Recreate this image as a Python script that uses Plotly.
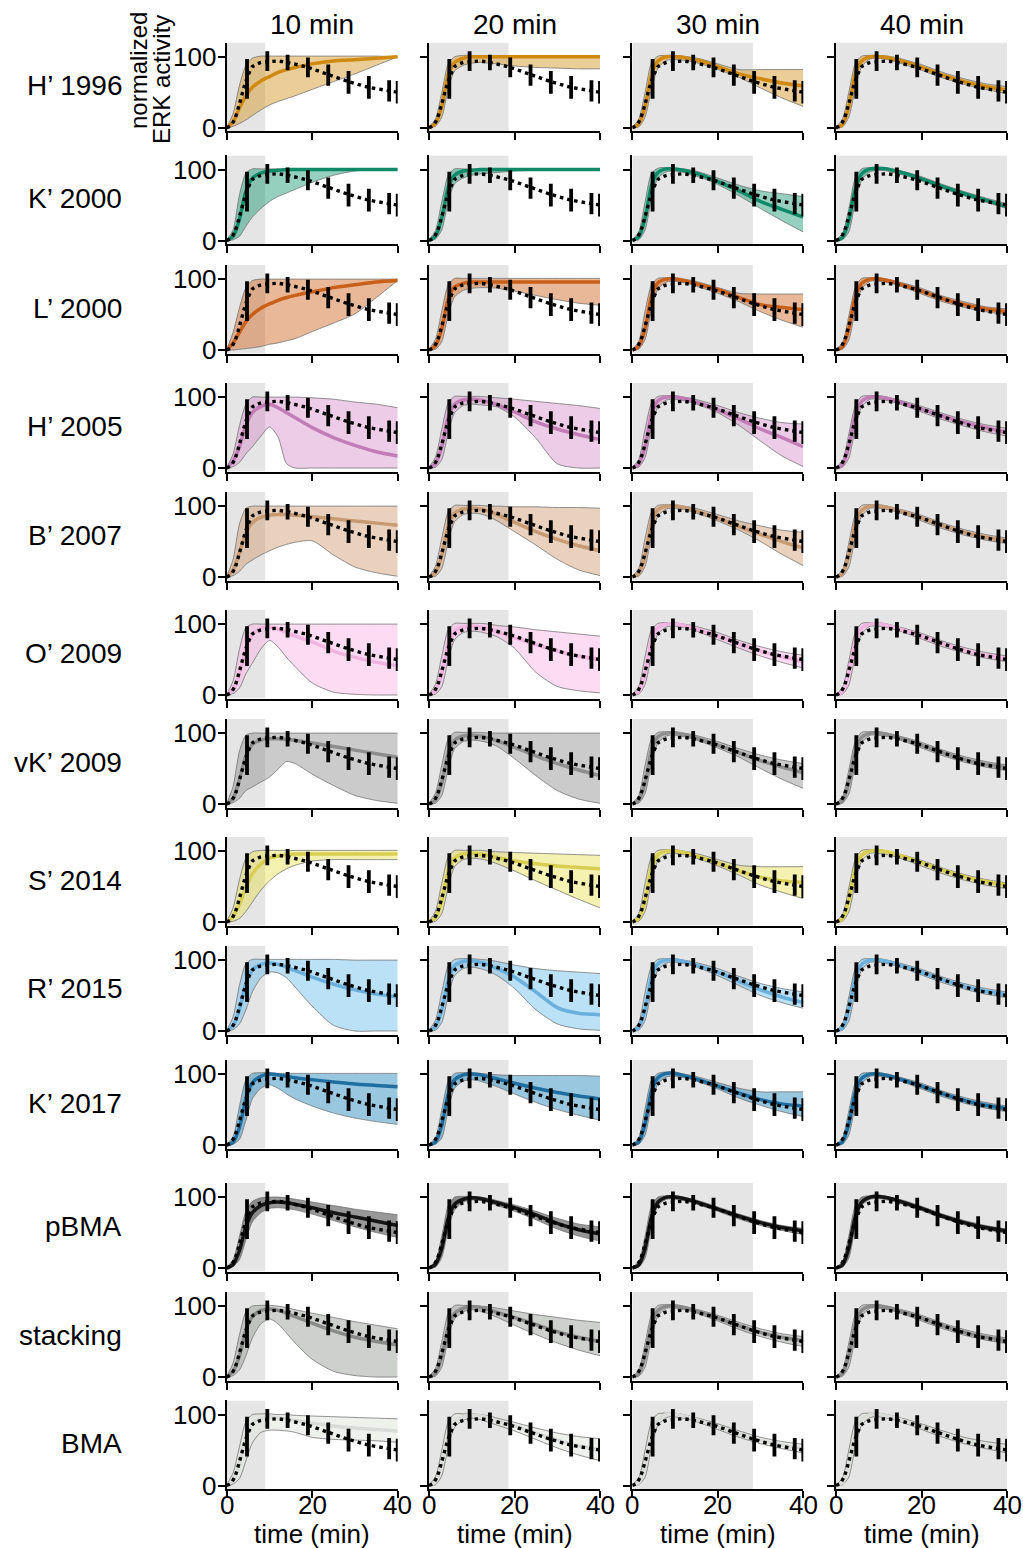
import plotly.graph_objects as go

# ---------------- data ----------------
ROW_LABELS = ["H’ 1996", "K’ 2000", "L’ 2000", "H’ 2005", "B’ 2007", "O’ 2009",
              "vK’ 2009", "S’ 2014", "R’ 2015", "K’ 2017", "pBMA", "stacking", "BMA"]
COL_TITLES = ["10 min", "20 min", "30 min", "40 min"]
TRAIN_END = [9.0, 18.6, 28.2, 40.0]
X_TICKS = [0, 20, 40]
Y_TICKS = [0, 100]

# measured data (dotted line + error bars)
DOT_T = [0, 1, 2, 3, 4, 4.75, 6, 8, 9.5, 12, 14.25, 19, 23.75, 28.5, 33.25, 38, 40]
DOT_Y = [0, 3, 14, 34, 56, 70, 86, 92, 93, 94, 92, 85, 75, 65, 57, 52, 50]
ERR_T = [4.75, 9.5, 14.25, 19, 23.75, 28.5, 33.25, 38, 40]
ERR_Y = [69, 94, 92, 85, 74, 64, 57, 52, 50]
ERR_E = [28, 14, 11, 14, 15, 16, 16, 15, 16]

# model predictions sampled at these times
T = [0, 1.5, 3, 4.5, 6, 8, 10, 12, 14, 16, 20, 25, 30, 35, 40]

H1996_MED = [[0, 8, 28, 45, 57, 66, 72, 78, 82, 85, 90, 94, 96, 98, 100],
             [0, 6, 30, 75, 92, 98, 100, 100, 100, 100, 100, 100, 100, 100, 100],
             [0, 5, 30, 75, 94, 100, 100, 99, 97, 94, 86, 76, 69, 63, 59],
             [0, 4, 30, 75, 94, 100, 100, 99, 96, 93, 85, 74, 65, 58, 53]]
H1996_LO = [[0, 2, 6, 11, 17, 25, 32, 37, 41, 45, 54, 65, 76, 88, 100],
            [0, 2, 15, 55, 80, 88, 91, 92, 91, 90, 87, 85, 84, 83, 83],
            [0, 1, 15, 55, 84, 95, 96, 95, 93, 90, 82, 71, 56, 42, 30],
            [0, 1, 15, 55, 86, 97, 98, 96, 93, 89, 81, 70, 61, 54, 48]]
H1996_HI = [[0, 20, 60, 88, 98, 101, 101, 101, 101, 101, 101, 101, 101, 101, 100],
            [1, 12, 50, 90, 100, 102, 102, 101, 101, 101, 101, 101, 101, 101, 101],
            [1, 12, 50, 92, 101, 102, 102, 101, 99, 97, 90, 82, 82, 82, 82],
            [1, 12, 50, 90, 101, 102, 102, 101, 99, 96, 89, 78, 69, 62, 58]]

K2000_MED = [[0, 6, 30, 70, 88, 95, 98, 99, 100, 100, 100, 100, 100, 100, 100],
             [0, 6, 32, 75, 92, 98, 99, 100, 100, 100, 100, 100, 100, 100, 100],
             [0, 5, 32, 78, 96, 101, 101, 99, 96, 93, 83, 70, 55, 44, 33],
             [0, 4, 28, 72, 94, 101, 102, 101, 98, 95, 87, 76, 66, 57, 48]]
K2000_LO = [[0, 1, 6, 20, 33, 45, 55, 62, 67, 72, 82, 92, 98, 100, 100],
            [0, 2, 15, 55, 80, 88, 92, 94, 95, 96, 98, 99, 100, 100, 100],
            [0, 1, 15, 60, 88, 97, 98, 96, 92, 89, 79, 63, 45, 28, 12],
            [0, 1, 12, 55, 85, 97, 99, 98, 95, 92, 84, 73, 63, 54, 45]]
K2000_HI = [[1, 15, 65, 95, 101, 101, 101, 101, 101, 101, 101, 101, 101, 101, 101],
            [1, 14, 55, 92, 101, 101, 101, 101, 101, 101, 101, 101, 101, 101, 101],
            [1, 12, 55, 95, 102, 103, 102, 101, 99, 96, 88, 78, 70, 66, 62],
            [1, 10, 45, 88, 101, 103, 103, 102, 100, 97, 90, 79, 69, 60, 52]]

L2000_MED = [[0, 10, 25, 40, 50, 59, 65, 70, 74, 77, 82, 88, 92, 96, 98],
             [0, 6, 30, 72, 89, 94, 96, 96, 96, 96, 96, 96, 96, 96, 96],
             [0, 5, 30, 76, 95, 100, 100, 98, 95, 92, 85, 74, 64, 60, 57],
             [0, 4, 30, 74, 94, 100, 100, 98, 95, 91, 83, 72, 64, 58, 54]]
L2000_LO = [[0, 0, 1, 2, 3, 5, 8, 10, 13, 16, 26, 38, 51, 74, 98],
            [0, 1, 12, 50, 75, 84, 87, 88, 88, 87, 83, 77, 71, 66, 63],
            [0, 1, 15, 58, 86, 96, 97, 95, 92, 88, 80, 68, 54, 42, 32],
            [0, 1, 14, 56, 86, 97, 97, 95, 92, 88, 79, 68, 60, 54, 50]]
L2000_HI = [[1, 25, 60, 88, 98, 100, 100, 100, 100, 100, 100, 100, 100, 100, 100],
            [1, 15, 55, 92, 101, 101, 101, 101, 101, 101, 101, 101, 101, 101, 101],
            [1, 12, 55, 92, 101, 102, 102, 100, 98, 95, 88, 80, 79, 79, 79],
            [1, 10, 48, 88, 101, 102, 102, 100, 97, 94, 87, 76, 68, 61, 58]]

H2005_MED = [[0, 10, 30, 60, 78, 87, 90, 85, 78, 71, 57, 43, 32, 23, 17],
             [0, 6, 30, 72, 90, 96, 97, 96, 93, 89, 79, 65, 55, 47, 40],
             [0, 5, 30, 76, 95, 100, 100, 98, 95, 91, 82, 69, 55, 43, 30],
             [0, 4, 30, 74, 94, 100, 100, 98, 95, 91, 83, 73, 64, 57, 50]]
H2005_LO = [[0, 2, 8, 20, 30, 45, 58, 44, 6, 0, 0, 0, 0, 0, 0],
            [0, 1, 12, 50, 78, 88, 90, 89, 88, 86, 72, 42, 6, 0, 0],
            [0, 1, 15, 58, 86, 96, 97, 95, 92, 88, 78, 60, 38, 17, 2],
            [0, 1, 14, 56, 86, 97, 97, 95, 92, 88, 79, 68, 59, 51, 45]]
H2005_HI = [[1, 20, 60, 90, 100, 100, 100, 100, 100, 100, 99, 97, 93, 90, 85],
            [1, 15, 55, 92, 101, 101, 101, 101, 100, 99, 97, 94, 91, 88, 84],
            [1, 12, 55, 92, 101, 102, 102, 100, 98, 95, 88, 78, 70, 64, 62],
            [1, 10, 48, 88, 101, 102, 102, 100, 97, 94, 87, 77, 68, 61, 56]]

B2007_MED = [[0, 10, 35, 62, 77, 84, 87, 88, 88, 87, 85, 82, 79, 76, 73],
             [0, 6, 30, 72, 90, 96, 97, 96, 93, 88, 77, 64, 53, 44, 37],
             [0, 5, 30, 76, 95, 100, 100, 98, 95, 91, 83, 71, 60, 50, 41],
             [0, 4, 30, 74, 94, 100, 100, 98, 95, 91, 83, 72, 63, 56, 51]]
B2007_LO = [[0, 2, 8, 18, 24, 31, 37, 42, 46, 49, 51, 31, 14, 6, 1],
            [0, 1, 12, 50, 78, 88, 90, 89, 85, 79, 64, 45, 25, 10, 2],
            [0, 1, 15, 58, 86, 96, 97, 95, 92, 88, 79, 66, 50, 32, 16],
            [0, 1, 14, 56, 86, 97, 97, 95, 92, 88, 79, 68, 59, 52, 47]]
B2007_HI = [[1, 25, 75, 97, 100, 100, 100, 100, 100, 100, 100, 100, 100, 100, 100],
            [1, 15, 55, 92, 101, 101, 101, 101, 100, 100, 99, 99, 98, 98, 97],
            [1, 12, 55, 92, 101, 102, 102, 100, 98, 95, 88, 79, 72, 66, 63],
            [1, 10, 48, 88, 101, 102, 102, 100, 97, 94, 87, 76, 67, 60, 55]]

O2009_MED = [[0, 8, 30, 65, 85, 94, 96, 93, 88, 83, 75, 62, 53, 46, 41],
             [0, 6, 30, 72, 90, 96, 97, 96, 93, 89, 81, 71, 62, 55, 50],
             [0, 5, 30, 76, 95, 100, 100, 98, 95, 91, 83, 72, 62, 54, 47],
             [0, 4, 30, 74, 94, 100, 100, 98, 95, 91, 83, 72, 63, 56, 51]]
O2009_LO = [[0, 2, 10, 30, 45, 65, 77, 68, 53, 40, 17, 4, 1, 0, 0],
            [0, 1, 12, 50, 78, 88, 90, 89, 86, 82, 66, 32, 12, 6, 3],
            [0, 1, 15, 58, 86, 96, 97, 95, 92, 88, 78, 66, 55, 46, 38],
            [0, 1, 14, 56, 86, 97, 97, 95, 92, 88, 79, 68, 59, 52, 47]]
O2009_HI = [[1, 20, 65, 95, 100, 100, 100, 100, 100, 100, 100, 100, 100, 100, 100],
            [1, 15, 55, 92, 101, 101, 101, 101, 100, 98, 96, 92, 89, 86, 83],
            [1, 12, 55, 92, 101, 102, 102, 100, 98, 95, 88, 77, 68, 61, 56],
            [1, 10, 48, 88, 101, 102, 102, 100, 97, 94, 87, 76, 67, 60, 55]]

VK2009_MED = [[0, 8, 35, 68, 84, 90, 92, 92, 91, 90, 86, 81, 76, 71, 66],
              [0, 6, 30, 72, 90, 96, 97, 96, 93, 89, 80, 68, 57, 48, 40],
              [0, 5, 30, 76, 95, 100, 100, 98, 95, 91, 83, 72, 61, 52, 44],
              [0, 4, 30, 74, 94, 100, 100, 98, 95, 91, 83, 72, 63, 56, 51]]
VK2009_LO = [[0, 2, 8, 19, 24, 31, 38, 49, 60, 57, 42, 26, 12, 5, 1],
             [0, 1, 12, 50, 78, 88, 90, 89, 86, 81, 64, 40, 19, 7, 1],
             [0, 1, 15, 58, 86, 96, 97, 95, 92, 88, 79, 66, 50, 35, 22],
             [0, 1, 14, 56, 86, 97, 97, 95, 92, 88, 79, 68, 59, 52, 47]]
VK2009_HI = [[1, 25, 75, 97, 100, 100, 100, 100, 100, 100, 100, 100, 100, 100, 100],
             [1, 15, 55, 92, 101, 101, 101, 101, 100, 100, 100, 100, 100, 100, 100],
             [1, 12, 55, 92, 101, 102, 102, 100, 98, 95, 88, 78, 69, 62, 57],
             [1, 10, 48, 88, 101, 102, 102, 100, 97, 94, 87, 76, 67, 60, 55]]

S2014_MED = [[0, 8, 25, 48, 68, 82, 90, 93, 95, 96, 96, 96, 96, 96, 96],
             [0, 6, 30, 72, 90, 96, 97, 96, 94, 91, 86, 82, 79, 77, 75],
             [0, 5, 30, 76, 95, 100, 100, 98, 95, 91, 83, 72, 63, 58, 56],
             [0, 4, 30, 74, 94, 100, 101, 99, 96, 92, 84, 73, 64, 57, 52]]
S2014_LO = [[0, 1, 5, 15, 28, 45, 58, 68, 75, 80, 86, 88, 88, 88, 88],
            [0, 1, 12, 50, 78, 88, 90, 89, 86, 82, 72, 58, 45, 32, 20],
            [0, 1, 15, 58, 86, 96, 97, 95, 92, 88, 79, 66, 52, 42, 33],
            [0, 1, 14, 56, 86, 97, 97, 95, 92, 88, 79, 68, 59, 52, 47]]
S2014_HI = [[1, 20, 60, 90, 99, 101, 101, 101, 101, 101, 101, 101, 101, 101, 101],
            [1, 15, 55, 92, 101, 101, 101, 101, 100, 99, 98, 97, 96, 95, 94],
            [1, 12, 55, 92, 101, 102, 102, 100, 98, 95, 88, 80, 78, 78, 78],
            [1, 10, 48, 88, 101, 102, 102, 100, 97, 94, 87, 76, 67, 60, 55]]

R2015_MED = [[0, 8, 30, 68, 86, 94, 96, 94, 90, 85, 76, 66, 58, 52, 48],
             [0, 6, 30, 72, 92, 98, 99, 97, 93, 88, 76, 55, 33, 25, 23],
             [0, 5, 30, 76, 95, 100, 100, 98, 95, 91, 83, 70, 58, 48, 40],
             [0, 4, 30, 74, 94, 100, 100, 98, 95, 91, 83, 72, 63, 56, 51]]
R2015_LO = [[0, 2, 10, 30, 55, 75, 83, 82, 75, 62, 35, 8, 0, 0, 0],
            [0, 1, 12, 50, 78, 88, 90, 88, 84, 78, 60, 30, 10, 3, 1],
            [0, 1, 15, 58, 86, 96, 97, 95, 92, 88, 78, 64, 50, 40, 32],
            [0, 1, 14, 56, 86, 97, 97, 95, 92, 88, 79, 68, 59, 52, 47]]
R2015_HI = [[1, 20, 65, 95, 101, 101, 101, 101, 101, 101, 101, 101, 100, 100, 100],
            [1, 15, 55, 92, 101, 102, 102, 101, 100, 98, 93, 88, 85, 83, 81],
            [1, 12, 55, 92, 101, 102, 102, 100, 98, 95, 88, 77, 67, 60, 55],
            [1, 10, 48, 88, 101, 102, 102, 100, 97, 94, 87, 76, 67, 60, 55]]

K2017_MED = [[0, 4, 25, 65, 88, 97, 100, 99, 97, 95, 92, 89, 86, 84, 82],
             [0, 4, 28, 72, 92, 99, 100, 99, 96, 93, 87, 80, 74, 69, 65],
             [0, 4, 30, 76, 95, 101, 101, 98, 95, 91, 83, 73, 64, 58, 55],
             [0, 4, 30, 74, 94, 100, 100, 98, 95, 91, 83, 72, 63, 56, 51]]
K2017_LO = [[0, 1, 8, 35, 65, 80, 85, 80, 72, 65, 55, 45, 38, 33, 29],
            [0, 1, 10, 50, 80, 90, 92, 90, 86, 82, 72, 60, 50, 42, 35],
            [0, 1, 14, 58, 86, 96, 97, 95, 92, 88, 79, 66, 56, 47, 40],
            [0, 1, 14, 56, 86, 97, 97, 95, 92, 88, 79, 68, 59, 52, 47]]
K2017_HI = [[1, 12, 55, 92, 101, 102, 102, 101, 101, 101, 101, 101, 101, 101, 101],
            [1, 10, 50, 90, 101, 102, 102, 101, 100, 99, 98, 98, 98, 98, 97],
            [1, 10, 52, 92, 101, 103, 103, 100, 98, 95, 88, 80, 75, 75, 75],
            [1, 10, 48, 88, 101, 102, 102, 100, 97, 94, 87, 76, 67, 60, 55]]

PBMA_MED = [[0, 5, 25, 58, 78, 88, 92, 93, 92, 90, 85, 78, 72, 66, 60],
            [0, 5, 28, 70, 90, 97, 99, 98, 95, 92, 85, 75, 63, 54, 48],
            [0, 4, 28, 72, 93, 100, 100, 98, 95, 91, 83, 73, 64, 57, 52],
            [0, 4, 28, 72, 93, 100, 101, 99, 96, 92, 84, 73, 64, 57, 52]]
PBMA_LO = [[0, 2, 12, 40, 65, 78, 84, 85, 84, 82, 76, 67, 58, 50, 43],
           [0, 1, 15, 55, 82, 93, 96, 95, 92, 88, 80, 68, 55, 45, 38],
           [0, 1, 14, 58, 88, 97, 97, 95, 92, 88, 80, 69, 60, 53, 47],
           [0, 1, 14, 58, 88, 97, 98, 96, 93, 89, 81, 70, 61, 54, 49]]
PBMA_HI = [[1, 12, 45, 80, 94, 99, 100, 100, 99, 97, 93, 88, 83, 79, 75],
           [1, 10, 45, 88, 100, 101, 101, 100, 98, 95, 89, 80, 70, 62, 58],
           [1, 9, 45, 88, 100, 102, 102, 100, 97, 94, 86, 76, 67, 60, 56],
           [1, 9, 45, 88, 100, 102, 103, 101, 98, 95, 87, 76, 67, 60, 55]]

STACK_MED = [[0, 8, 30, 66, 85, 94, 96, 94, 90, 85, 76, 65, 56, 50, 45],
             [0, 5, 28, 70, 90, 97, 99, 98, 95, 91, 84, 74, 64, 56, 50],
             [0, 4, 30, 74, 94, 100, 100, 98, 95, 91, 83, 72, 63, 56, 51],
             [0, 4, 30, 74, 94, 100, 100, 98, 95, 91, 83, 72, 63, 56, 51]]
STACK_LO = [[0, 2, 10, 30, 55, 75, 82, 75, 62, 48, 25, 8, 2, 0, 0],
            [0, 1, 14, 55, 82, 92, 95, 93, 89, 84, 73, 60, 48, 38, 30],
            [0, 1, 14, 56, 86, 97, 97, 95, 92, 88, 79, 67, 57, 49, 43],
            [0, 1, 14, 56, 86, 97, 97, 95, 92, 88, 79, 68, 59, 52, 47]]
STACK_HI = [[1, 20, 60, 92, 100, 101, 101, 100, 98, 95, 90, 84, 78, 73, 68],
            [1, 12, 50, 90, 101, 101, 101, 100, 99, 97, 93, 88, 84, 80, 77],
            [1, 10, 48, 88, 101, 102, 102, 100, 97, 94, 87, 77, 68, 61, 57],
            [1, 10, 48, 88, 101, 102, 102, 100, 97, 94, 87, 76, 67, 60, 55]]

BMA_MED = [[0, 8, 30, 68, 87, 95, 97, 96, 94, 92, 88, 84, 81, 79, 77],
           [0, 5, 28, 70, 90, 97, 99, 98, 95, 91, 84, 74, 64, 56, 50],
           [0, 4, 28, 72, 93, 100, 100, 98, 95, 91, 83, 73, 64, 57, 52],
           [0, 4, 28, 72, 93, 100, 100, 98, 95, 91, 83, 73, 64, 57, 52]]
BMA_LO = [[0, 2, 10, 35, 60, 75, 78, 78, 77, 75, 68, 65, 64, 63, 61],
          [0, 1, 14, 55, 82, 92, 95, 93, 89, 85, 77, 65, 53, 43, 35],
          [0, 1, 12, 55, 85, 96, 97, 95, 92, 88, 79, 68, 59, 52, 46],
          [0, 1, 12, 55, 85, 96, 97, 95, 92, 88, 79, 68, 59, 52, 46]]
BMA_HI = [[1, 18, 55, 90, 100, 101, 101, 100, 100, 99, 98, 97, 96, 95, 94],
          [1, 12, 50, 90, 101, 101, 101, 100, 98, 95, 89, 81, 74, 69, 66],
          [1, 10, 50, 90, 101, 102, 102, 100, 97, 94, 87, 77, 68, 62, 58],
          [1, 10, 50, 90, 101, 102, 102, 100, 97, 94, 87, 77, 68, 62, 58]]

MODELS = [(H1996_MED, H1996_LO, H1996_HI), (K2000_MED, K2000_LO, K2000_HI),
          (L2000_MED, L2000_LO, L2000_HI), (H2005_MED, H2005_LO, H2005_HI),
          (B2007_MED, B2007_LO, B2007_HI), (O2009_MED, O2009_LO, O2009_HI),
          (VK2009_MED, VK2009_LO, VK2009_HI), (S2014_MED, S2014_LO, S2014_HI),
          (R2015_MED, R2015_LO, R2015_HI), (K2017_MED, K2017_LO, K2017_HI),
          (PBMA_MED, PBMA_LO, PBMA_HI), (STACK_MED, STACK_LO, STACK_HI),
          (BMA_MED, BMA_LO, BMA_HI)]

# ---------------- styles ----------------
LINE_COLORS = ["#d08a12", "#0f8a68", "#c9601a", "#c27cb6", "#c79a72", "#f1b3df",
               "#8e8e8e", "#d8cf52", "#6bb0dc", "#1f6e9f", "#151515", "#8a8a8a", "#d9dcd8"]
FILL_COLORS = ["rgba(214,150,40,0.48)", "rgba(2,140,100,0.42)", "rgba(205,100,30,0.46)",
               "rgba(204,120,188,0.38)", "rgba(202,145,97,0.42)", "rgba(251,175,228,0.45)",
               "rgba(140,140,140,0.45)", "rgba(230,220,60,0.40)", "rgba(86,180,233,0.40)",
               "rgba(1,115,178,0.40)", "rgba(40,40,40,0.48)", "rgba(150,156,150,0.48)",
               "rgba(225,230,222,0.55)"]

W, H = 1023, 1548
COL_X0 = [226.7, 429.0, 632.3, 836.0]
COL_W = 171.0
ROW_Z = [127.7, 240.5, 350.0, 468.0, 577.0, 695.0, 804.0, 922.0, 1031.0, 1145.0, 1268.0, 1377.0, 1485.5]
PX = 0.709  # pixels per unit of y
YMIN, YMAX = -5, 120
FONT = "Liberation Sans, Arial, Helvetica, sans-serif"

fig = go.Figure()
layout = dict(width=W, height=H, margin=dict(l=0, r=0, t=0, b=0, pad=0, autoexpand=False),
              autosize=False, plot_bgcolor="white", paper_bgcolor="white", showlegend=False,
              font=dict(family=FONT, color="black", size=20))
shapes, annotations = [], []

for r in range(13):
    med_all, lo_all, hi_all = MODELS[r]
    z = ROW_Z[r]
    top_px = z - YMAX * PX
    bot_px = z - YMIN * PX
    for c in range(4):
        k = r * 4 + c
        sfx = "" if k == 0 else str(k + 1)
        xa, ya = "x" + sfx, "y" + sfx
        x0 = COL_X0[c]
        layout["xaxis" + sfx] = dict(
            domain=[x0 / W, (x0 + COL_W) / W], range=[0, 40], anchor=ya,
            showgrid=False, zeroline=False, showline=True, linecolor="black", linewidth=2,
            ticks="outside", ticklen=7, tickwidth=2, tickcolor="black",
            tickvals=X_TICKS, showticklabels=False, automargin=False, fixedrange=True)
        layout["yaxis" + sfx] = dict(
            domain=[1 - bot_px / H, 1 - top_px / H], range=[YMIN, YMAX], anchor=xa,
            showgrid=False, zeroline=False, showline=True, linecolor="black", linewidth=2,
            ticks="outside", ticklen=7, tickwidth=2, tickcolor="black",
            tickvals=Y_TICKS, showticklabels=False, automargin=False, fixedrange=True)
        shapes.append(dict(type="rect", xref=xa, yref=ya, x0=0, x1=TRAIN_END[c],
                           y0=YMIN, y1=YMAX, fillcolor="#e5e5e5", line=dict(width=0),
                           layer="below"))
        med, lo, hi = med_all[c], lo_all[c], hi_all[c]
        edge = dict(color="rgba(110,110,110,0.75)", width=1, shape="spline", smoothing=0.7)
        fig.add_trace(go.Scatter(x=T, y=lo, mode="lines", line=edge, xaxis=xa, yaxis=ya,
                                 hoverinfo="skip"))
        fig.add_trace(go.Scatter(x=T, y=hi, mode="lines", line=edge, xaxis=xa, yaxis=ya,
                                 fill="tonexty", fillcolor=FILL_COLORS[r], hoverinfo="skip"))
        fig.add_trace(go.Scatter(x=T, y=med, mode="lines", xaxis=xa, yaxis=ya,
                                 line=dict(color=LINE_COLORS[r], width=3.5, shape="spline",
                                           smoothing=0.7)))
        fig.add_trace(go.Scatter(x=DOT_T, y=DOT_Y, mode="lines", xaxis=xa, yaxis=ya,
                                 line=dict(color="black", width=3.4, dash="3.4px,4px",
                                           shape="spline", smoothing=0.6)))
        fig.add_trace(go.Scatter(x=ERR_T, y=ERR_Y, mode="markers", xaxis=xa, yaxis=ya,
                                 marker=dict(size=1, color="rgba(0,0,0,0)"),
                                 error_y=dict(type="data", array=ERR_E, color="black",
                                              thickness=3.8, width=0)))
        # tick labels: y labels in first column, x labels in last row
        if c == 0:
            for v in Y_TICKS:
                annotations.append(dict(text=str(v), x=218 / W, xref="paper", y=v, yref=ya,
                                        xanchor="right", yanchor="middle", showarrow=False,
                                        font=dict(size=26, family=FONT)))
        if r == 12:
            for v in X_TICKS:
                annotations.append(dict(text=str(v), x=v, xref=xa, y=1 - 1505 / H, yref="paper",
                                        xanchor="center", yanchor="middle", showarrow=False,
                                        font=dict(size=26, family=FONT)))
    annotations.append(dict(text=ROW_LABELS[r], x=124 / W, y=1 - (z - 42) / H,
                            xref="paper", yref="paper", xanchor="right", yanchor="middle",
                            showarrow=False, font=dict(size=28, family=FONT)))

for c in range(4):
    cx = (COL_X0[c] + COL_W / 2) / W
    annotations.append(dict(text=COL_TITLES[c], x=cx, y=1 - 25 / H, xref="paper", yref="paper",
                            xanchor="center", yanchor="middle", showarrow=False,
                            font=dict(size=28, family=FONT)))
    annotations.append(dict(text="time (min)", x=cx, y=1 - 1534 / H, xref="paper", yref="paper",
                            xanchor="center", yanchor="middle", showarrow=False,
                            font=dict(size=26, family=FONT)))

annotations.append(dict(text="normalized", x=138 / W, y=1 - 71 / H,
                        xref="paper", yref="paper", xanchor="center", yanchor="middle",
                        textangle=-90, showarrow=False, font=dict(size=24, family=FONT)))
annotations.append(dict(text="ERK activity", x=161 / W, y=1 - 80 / H,
                        xref="paper", yref="paper", xanchor="center", yanchor="middle",
                        textangle=-90, showarrow=False, font=dict(size=24, family=FONT)))

layout["shapes"] = shapes
layout["annotations"] = annotations
fig.update_layout(**layout)
fig.write_html("out.html", config={"displayModeBar": False, "responsive": False},
               post_script="document.body.style.margin='0';document.body.style.overflow='hidden';")
